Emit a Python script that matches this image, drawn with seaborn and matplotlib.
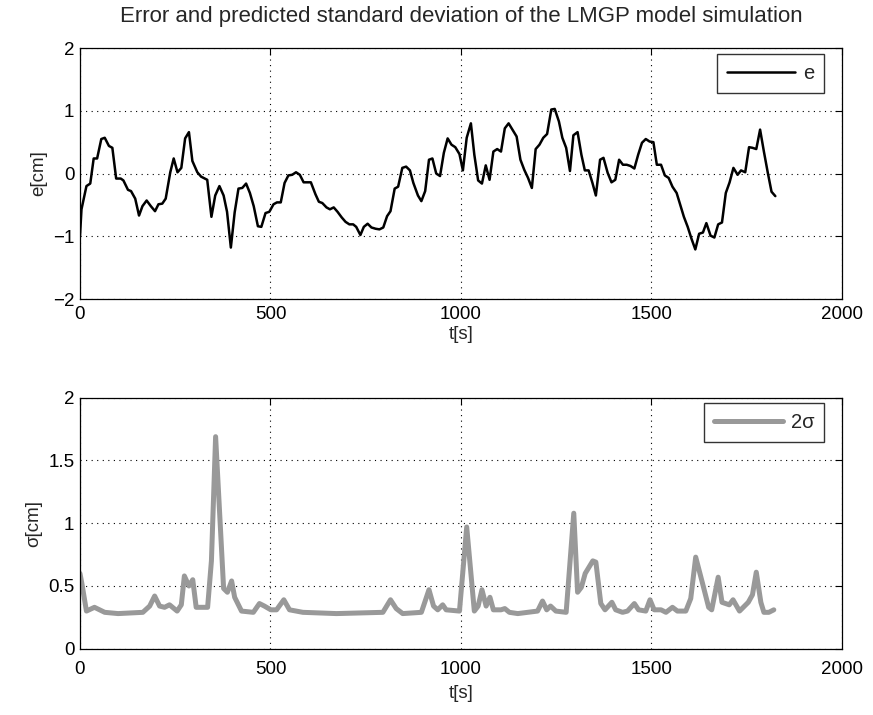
import numpy as np
import pandas as pd
import matplotlib
matplotlib.use("Agg")
import matplotlib.pyplot as plt
import seaborn as sns

# ---- data ----
t_e = [0, 4, 17, 27, 36, 45, 56, 65, 76, 85, 95, 107, 114, 126, 134, 145, 155, 164, 175, 186,
       197, 206, 216, 225, 237, 246, 256, 266, 276, 286, 295, 308, 318, 334, 345, 355, 366, 377,
       386, 396, 406, 416, 426, 436, 446, 456, 467, 476, 487, 497, 508, 517, 527, 537, 547, 557,
       567, 577, 587, 606, 618, 627, 636, 647, 656, 666, 676, 687, 697, 707, 717, 725, 736, 745,
       755, 765, 776, 786, 796, 806, 815, 826, 835, 846, 856, 866, 875, 887, 896, 906, 916, 925,
       935, 945, 955, 965, 975, 985, 996, 1005, 1015, 1026, 1035, 1045, 1055, 1065, 1075, 1085,
       1095, 1105, 1115, 1125, 1135, 1146, 1156, 1166, 1176, 1186, 1196, 1206, 1216, 1226, 1237,
       1246, 1257, 1266, 1276, 1286, 1295, 1306, 1316, 1325, 1335, 1345, 1354, 1365, 1374, 1385,
       1395, 1405, 1415, 1425, 1435, 1445, 1455, 1465, 1475, 1485, 1495, 1505, 1514, 1525, 1535,
       1545, 1555, 1566, 1575, 1585, 1595, 1605, 1615, 1625, 1635, 1644, 1655, 1665, 1675, 1685,
       1695, 1705, 1715, 1726, 1735, 1746, 1756, 1765, 1775, 1785, 1795, 1805, 1815, 1825]
e_vals = [-1.00, -0.57, -0.20, -0.16, 0.24, 0.24, 0.55, 0.57, 0.44, 0.41, -0.08, -0.08, -0.11,
          -0.26, -0.28, -0.40, -0.67, -0.52, -0.43, -0.52, -0.60, -0.49, -0.48, -0.40, 0.02, 0.24,
          0.02, 0.09, 0.56, 0.66, 0.20, 0.02, -0.05, -0.10, -0.69, -0.35, -0.20, -0.35, -0.61,
          -1.18, -0.62, -0.24, -0.23, -0.16, -0.31, -0.52, -0.84, -0.85, -0.63, -0.61, -0.49,
          -0.46, -0.46, -0.15, -0.03, -0.02, 0.02, -0.02, -0.14, -0.14, -0.33, -0.45, -0.47,
          -0.54, -0.57, -0.54, -0.61, -0.70, -0.77, -0.81, -0.81, -0.85, -0.98, -0.85, -0.80,
          -0.86, -0.88, -0.89, -0.86, -0.68, -0.60, -0.24, -0.21, 0.09, 0.11, 0.05, -0.15, -0.35,
          -0.44, -0.28, 0.22, 0.24, 0.00, -0.04, 0.33, 0.56, 0.46, 0.42, 0.31, 0.05, 0.57, 0.80,
          0.30, -0.11, -0.16, 0.13, -0.10, 0.35, 0.39, 0.35, 0.72, 0.80, 0.70, 0.59, 0.22, 0.06,
          -0.07, -0.23, 0.39, 0.46, 0.57, 0.63, 1.02, 1.03, 0.83, 0.57, 0.41, 0.04, 0.61, 0.66,
          0.30, 0.05, 0.05, -0.15, -0.35, 0.22, 0.25, 0.01, -0.14, -0.10, 0.22, 0.14, 0.14, 0.12,
          0.08, 0.30, 0.49, 0.55, 0.51, 0.50, 0.14, 0.14, -0.03, -0.07, -0.21, -0.31, -0.49,
          -0.69, -0.85, -1.04, -1.21, -0.96, -0.94, -0.79, -0.99, -1.02, -0.81, -0.78, -0.31,
          -0.14, 0.09, -0.02, 0.05, 0.02, 0.42, 0.41, 0.39, 0.70, 0.35, 0.02, -0.29, -0.36]

t_s = [0, 5, 17, 38, 65, 100, 165, 183, 196, 209, 222, 235, 255, 266, 274, 286, 296, 305, 335,
       345, 356, 377, 387, 398, 406, 424, 455, 471, 484, 501, 516, 535, 550, 585, 673, 795, 815,
       830, 847, 896, 916, 928, 939, 952, 961, 996, 1015, 1035, 1045, 1055, 1066, 1076, 1085,
       1105, 1115, 1127, 1149, 1201, 1214, 1225, 1235, 1249, 1276, 1296, 1306, 1316, 1326,
       1346, 1354, 1367, 1378, 1396, 1406, 1424, 1437, 1455, 1466, 1485, 1496, 1507, 1525,
       1538, 1555, 1568, 1590, 1603, 1616, 1634, 1650, 1658, 1675, 1685, 1704, 1714, 1731,
       1754, 1765, 1775, 1787, 1795, 1808, 1821]
s_vals = [0.60, 0.52, 0.30, 0.33, 0.29, 0.28, 0.29, 0.34, 0.42, 0.34, 0.33, 0.35, 0.30, 0.35,
          0.58, 0.50, 0.55, 0.33, 0.33, 0.70, 1.69, 0.48, 0.45, 0.54, 0.41, 0.30, 0.29, 0.36,
          0.34, 0.31, 0.31, 0.39, 0.31, 0.29, 0.28, 0.29, 0.39, 0.32, 0.28, 0.29, 0.47, 0.34,
          0.31, 0.35, 0.31, 0.30, 0.97, 0.30, 0.34, 0.47, 0.34, 0.41, 0.31, 0.31, 0.32, 0.29,
          0.28, 0.30, 0.38, 0.31, 0.34, 0.30, 0.29, 1.08, 0.45, 0.49, 0.60, 0.70, 0.69, 0.36,
          0.31, 0.37, 0.31, 0.29, 0.30, 0.36, 0.31, 0.30, 0.39, 0.31, 0.31, 0.29, 0.33, 0.30,
          0.30, 0.40, 0.73, 0.52, 0.33, 0.31, 0.57, 0.37, 0.35, 0.39, 0.30, 0.37, 0.43, 0.61,
          0.37, 0.29, 0.29, 0.31]

title_text = "Error and predicted standard deviation of the LMGP model simulation"
x_ticks = [0, 500, 1000, 1500, 2000]
e_ticks = [-2, -1, 0, 1, 2]
s_ticks = [0, 0.5, 1, 1.5, 2]
s_tick_labels = ["0", "0.5", "1", "1.5", "2"]

df_e = pd.DataFrame({"t": t_e, "e": e_vals})
df_s = pd.DataFrame({"t": t_s, "s": s_vals})

sns.set_style("white")
plt.rcParams["font.family"] = ["Liberation Sans", "DejaVu Sans"]
plt.rcParams["axes.unicode_minus"] = True

fig = plt.figure(figsize=(8.73, 7.15), dpi=100)
ax1 = fig.add_axes([0.0916, 0.5818, 0.8729, 0.3510])
ax2 = fig.add_axes([0.0916, 0.0927, 0.8729, 0.3510])

sns.lineplot(data=df_e, x="t", y="e", ax=ax1, color="black", linewidth=1.8,
             label="e", sort=False, estimator=None)
sns.lineplot(data=df_s, x="t", y="s", ax=ax2, color="#999999", linewidth=3.6,
             label="2σ", sort=False, estimator=None)

def style(ax, yticks, ylabels, ylim, ylabel, anchor, xpad, xlabelpad):
    ax.set_xlim(0, 2000)
    ax.set_ylim(*ylim)
    ax.set_xticks(x_ticks)
    ax.set_xticklabels([str(v) for v in x_ticks])
    ax.set_yticks(yticks)
    ax.set_yticklabels(ylabels)
    ax.grid(True, color="black", linestyle=(0, (1, 4)), linewidth=0.8)
    ax.tick_params(direction="in", top=True, right=True, length=5, width=0.8,
                   labelsize=13.5, colors="black", pad=4)
    ax.tick_params(axis="x", pad=xpad)
    for sp in ax.spines.values():
        sp.set_visible(True)
        sp.set_color("black")
        sp.set_linewidth(0.9)
    ax.set_xlabel("t[s]", fontsize=13.5, labelpad=xlabelpad)
    ax.set_ylabel(ylabel, fontsize=13.5, labelpad=4)
    leg = ax.legend(loc="upper right", bbox_to_anchor=anchor, fontsize=14.5,
                    handlelength=3.4, frameon=True, fancybox=False, borderaxespad=0.0,
                    handletextpad=0.4, borderpad=0.5)
    leg.get_frame().set_edgecolor("black")
    leg.get_frame().set_linewidth(1.0)

style(ax1, e_ticks, ["\u22122", "\u22121", "0", "1", "2"], (-2, 2), "e[cm]",
      (0.977, 0.977), 5, 2)
style(ax2, s_ticks, s_tick_labels, (0, 2), "σ[cm]", (0.977, 0.979), 9, 5)
ax1.set_title(title_text, fontsize=16, pad=19)

fig.savefig("out.png", dpi=100)
